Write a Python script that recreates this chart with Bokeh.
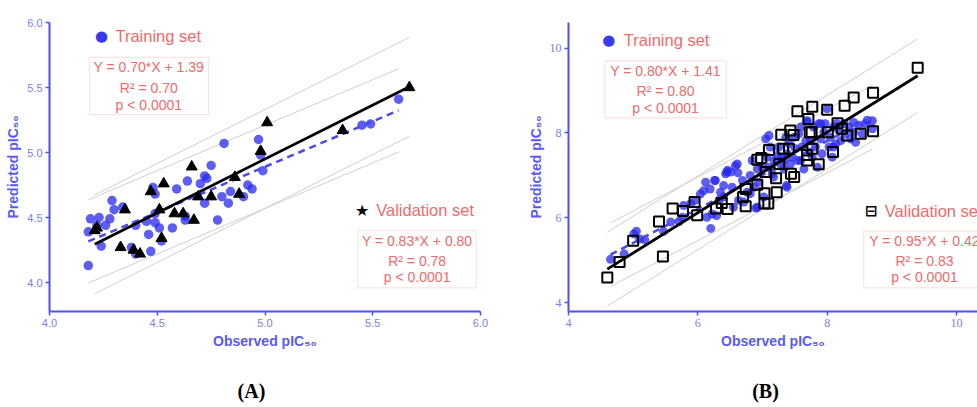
import numpy as np
from bokeh.plotting import figure
from bokeh.layouts import row, column
from bokeh.models import Label, BoxAnnotation, Range1d, FixedTicker
from bokeh.embed import file_html
from bokeh.resources import INLINE

# ---------------- Data ----------------
# Panel A
train_A_x = [4.18, 4.19, 4.18, 4.23, 4.22, 4.24, 4.26, 4.28, 4.29, 4.30,
             4.34, 4.38, 4.40, 4.40, 4.45, 4.46, 4.47, 4.48, 4.49, 4.49,
             4.49, 4.51, 4.52, 4.57, 4.59, 4.63, 4.63, 4.64, 4.70, 4.72,
             4.72, 4.73, 4.75, 4.78, 4.80, 4.81, 4.83, 4.84, 4.90, 4.92,
             4.94, 4.97, 4.98, 4.99, 5.45, 5.49, 5.62]
train_A_y = [4.13, 4.49, 4.39, 4.50, 4.44, 4.28, 4.44, 4.49, 4.63, 4.56,
             4.58, 4.27, 4.22, 4.44, 4.47, 4.37, 4.24, 4.73, 4.68, 4.53,
             4.46, 4.42, 4.32, 4.42, 4.72, 4.51, 4.48, 4.78, 4.76, 4.61,
             4.82, 4.80, 4.90, 4.48, 4.66, 5.07, 4.61, 4.70, 4.66, 4.75,
             4.72, 5.10, 4.98, 4.86, 5.21, 5.22, 5.41]
val_A_x = [4.21, 4.22, 4.33, 4.35, 4.39, 4.42, 4.47, 4.51, 4.52, 4.53, 4.58,
           4.62, 4.67, 4.66, 4.69, 4.75, 4.86, 4.88, 4.98, 5.01, 5.36, 5.67]
val_A_y = [4.40, 4.42, 4.27, 4.56, 4.25, 4.22, 4.70, 4.56, 4.34, 4.76, 4.53,
           4.53, 4.48, 4.89, 4.66, 4.66, 4.81, 4.68, 5.01, 5.23, 5.17, 5.50]

# Panel B
train_B_x = [4.65, 4.86, 5.01, 5.05, 5.10, 5.18, 5.47, 5.58, 5.71, 5.76,
             5.78, 5.89, 5.96, 6.04, 6.09, 6.12, 6.19, 6.20, 6.22, 6.26,
             6.29, 6.33, 6.35, 6.40, 6.43, 6.46, 6.51, 6.53, 6.58, 6.62,
             6.63, 6.69, 6.71, 6.76, 6.81, 6.84, 6.87, 6.90, 6.92, 6.94,
             7.00, 7.02, 7.05, 7.07, 7.10, 7.12, 7.15, 7.18, 7.23, 7.25,
             7.28, 7.30, 7.33, 7.36, 7.37, 7.38, 7.41, 7.43, 7.46, 7.49,
             7.51, 7.54, 7.56, 7.59, 7.61, 7.64, 7.67, 7.69, 7.72, 7.74,
             7.77, 7.79, 7.82, 7.87, 7.90, 7.92, 7.95, 7.97, 8.00, 8.03,
             8.05, 8.08, 8.10, 8.13, 8.18, 8.21, 8.26, 8.28, 8.34, 8.36,
             8.41, 8.44, 8.49, 8.54, 8.59, 8.70, 8.70,
             7.10, 6.61, 6.45, 6.27, 6.14, 6.40, 6.55, 6.81, 6.92, 7.17,
             7.33, 7.90, 7.69, 8.15, 8.41, 8.62, 8.10, 7.59, 7.85, 7.38]
train_B_y = [5.02, 5.15, 5.62, 5.68, 5.50, 5.48, 5.68, 5.90, 5.91, 6.01,
             6.29, 6.33, 6.41, 6.56, 6.64, 6.84, 6.68, 5.75, 6.09, 6.88,
             6.05, 6.42, 6.60, 6.76, 7.04, 7.12, 7.08, 6.72, 7.23, 7.06,
             6.41, 6.88, 6.37, 6.60, 7.00, 7.35, 6.72, 6.23, 7.15, 6.84,
             7.19, 6.49, 7.86, 7.43, 7.19, 7.67, 7.04, 7.35, 7.47, 7.67,
             7.27, 7.43, 7.15, 7.90, 6.76, 7.51, 7.74, 7.27, 7.43, 7.90,
             7.63, 7.35, 7.98, 8.14, 7.67, 7.15, 7.82, 8.29, 7.55, 7.82,
             7.43, 8.14, 7.67, 8.22, 7.86, 7.51, 8.02, 8.22, 8.57, 7.67,
             7.90, 7.43, 8.14, 7.74, 8.06, 7.82, 8.22, 7.98, 8.14, 7.86,
             8.25, 7.78, 8.18, 7.98, 8.22, 8.29, 8.10,
             7.94, 7.27, 7.08, 6.88, 6.01, 6.49, 6.25, 6.57, 6.25, 6.96,
             7.35, 8.22, 8.26, 8.22, 8.02, 8.30, 7.67, 7.35, 7.19, 6.72]
val_B_x = [4.60, 4.79, 5.00, 5.40, 5.46, 5.61, 5.77, 5.95, 5.99, 6.28,
           6.37, 6.46, 6.70, 6.74, 6.74, 6.92, 6.92, 6.98, 7.03, 7.03,
           7.09, 7.10, 7.05, 7.21, 7.22, 7.26, 7.29, 7.32, 7.41, 7.43,
           7.44, 7.49, 7.48, 7.54, 7.69, 7.71, 7.73, 7.77, 7.76, 7.77,
           7.87, 8.00, 8.01, 8.09, 8.16, 8.27, 8.31, 8.41, 8.52, 8.71,
           8.71, 9.40, 8.23, 7.69]
val_B_y = [4.59, 4.96, 5.46, 5.91, 5.09, 6.22, 6.16, 6.37, 6.06, 6.22,
           6.35, 6.21, 6.49, 6.27, 6.68, 6.78, 7.37, 7.41, 6.58, 6.34,
           6.34, 7.60, 7.08, 6.93, 6.60, 7.27, 7.96, 7.63, 7.63, 8.06,
           7.04, 6.96, 7.95, 8.51, 7.35, 8.33, 8.02, 8.62, 8.02, 7.63,
           7.26, 8.55, 8.02, 7.55, 8.23, 8.64, 7.94, 8.84, 7.98, 8.04,
           8.95, 9.54, 8.10, 7.48]

# Regression results (slope, intercept) and prediction band half widths
fit_A_train = (0.70, 1.39)
fit_A_val = (0.83, 0.80)
fit_B_train = (0.80, 1.41)
fit_B_val = (0.95, 0.42)
band_A = (0.32, 0.38)
band_B = (0.75, 0.87)

# Text
eq_A_train = ["Y = 0.70*X + 1.39", "R\u00b2 = 0.70", "p < 0.0001"]
eq_A_val = ["Y = 0.83*X + 0.80", "R\u00b2 = 0.78", "p < 0.0001"]
eq_B_train = ["Y = 0.80*X + 1.41", "R\u00b2 = 0.80", "p < 0.0001"]
eq_B_val = ["Y = 0.95*X + 0.42", "R\u00b2 = 0.83", "p < 0.0001"]
ticks_A = [4.0, 4.5, 5.0, 5.5, 6.0]
tick_labels_A = ["4.0", "4.5", "5.0", "5.5", "6.0"]
ticks_B = [4, 6, 8, 10]
tick_labels_B = ["4", "6", "8", "10"]
xlabel = "Observed pIC\u2085\u2080"
ylabel = "Predicted pIC\u2085\u2080"
panel_labels = ["(A)", "(B)"]

# ---------------- Styles ----------------
AXIS_BLUE = "#4f4ff2"
TICK_BLUE = "#7d7df2"
TITLE_BLUE = "#5a5af0"
SALMON = "#f16a6a"
BOX_LINE = "#f4a3a3"
PT_BLUE = "#2828ee"
BAND_GRAY = "#cfcfcf"

TOP_H = 370
CAP_H = 37


def style_axes(p, ticks, labels, tick_font, tick_size):
    for ax in (p.xaxis[0], p.yaxis[0]):
        ax.ticker = FixedTicker(ticks=ticks)
        ax.major_label_overrides = {t: l for t, l in zip(ticks, labels)}
        ax.axis_line_color = AXIS_BLUE
        ax.axis_line_width = 2
        ax.major_tick_line_color = AXIS_BLUE
        ax.major_tick_line_width = 1.5
        ax.major_tick_out = 4
        ax.major_tick_in = 0
        ax.minor_tick_line_color = None
        ax.major_label_text_color = TICK_BLUE
        ax.major_label_text_font = tick_font
        ax.major_label_text_font_size = tick_size
        ax.major_label_standoff = 3
        ax.axis_label_text_color = TITLE_BLUE
        ax.axis_label_text_font = "Liberation Sans"
        ax.axis_label_text_font_style = "bold"
        ax.axis_label_text_font_size = "14px"
        ax.axis_label_standoff = 3
    p.xaxis.axis_label = xlabel
    p.yaxis.axis_label = ylabel
    p.xgrid.grid_line_color = None
    p.ygrid.grid_line_color = None
    p.outline_line_color = None
    p.background_fill_color = "white"
    p.border_fill_color = "white"


def fit_line(xs, fit):
    xx = np.array([min(xs), max(xs)])
    return xx, fit[0] * xx + fit[1]


def add_bands(p, xs, fit, band):
    xx, yy = fit_line(xs, fit)
    p.line(xx, yy + band, line_color=BAND_GRAY, line_width=1)
    p.line(xx, yy - band, line_color=BAND_GRAY, line_width=1)


def add_box(p, lines, left, right, top, bottom, cx, ys):
    p.add_layout(BoxAnnotation(left=left, right=right, top=top, bottom=bottom,
                               fill_color=None, fill_alpha=0,
                               line_color=BOX_LINE, line_width=1.2))
    for t, yv in zip(lines, ys):
        p.add_layout(Label(x=cx, y=yv, text=t, text_align="center",
                           text_baseline="middle", text_color=SALMON,
                           text_font="Liberation Sans", text_font_size="14px"))


def add_text(p, x, y, text, size="16.5px", color=SALMON, font="Liberation Sans",
             align="left", style="normal"):
    p.add_layout(Label(x=x, y=y, text=text, text_align=align, text_baseline="middle",
                       text_color=color, text_font=font, text_font_size=size,
                       text_font_style=style))


def caption(width, text, cx):
    c = figure(width=width, height=CAP_H, x_range=Range1d(0, width), y_range=Range1d(0, CAP_H),
               output_backend="svg", toolbar_location=None, min_border=0,
               x_axis_type=None, y_axis_type=None)
    c.xgrid.grid_line_color = None
    c.ygrid.grid_line_color = None
    c.outline_line_color = None
    c.add_layout(Label(x=cx, y=CAP_H - 20, text=text, text_align="center",
                       text_baseline="middle", text_color="black",
                       text_font="Liberation Serif", text_font_style="bold",
                       text_font_size="20px"))
    return c


# ---------------- Panel A ----------------
pA = figure(width=490, height=TOP_H, x_range=Range1d(4.0, 6.0), y_range=Range1d(3.777, 6.0),
            output_backend="svg", toolbar_location=None,
            min_border_left=49, min_border_right=10, min_border_top=22, min_border_bottom=59)
style_axes(pA, ticks_A, tick_labels_A, "Liberation Sans", "11px")

add_bands(pA, train_A_x, fit_A_train, band_A[0])
add_bands(pA, val_A_x, fit_A_val, band_A[1])
pA.scatter(train_A_x, train_A_y, marker="circle", size=9.5, fill_color=PT_BLUE,
           fill_alpha=0.75, line_color=None)
xx, yy = fit_line(train_A_x, fit_A_train)
pA.line(xx, yy, line_color="#4a4af0", line_width=2.5, line_dash="7 5")
pA.scatter(val_A_x, val_A_y, marker="triangle", size=11, fill_color="black",
           line_color="black")
xx, yy = fit_line(val_A_x, fit_A_val)
pA.line(xx, yy, line_color="black", line_width=2.8)

add_text(pA, 4.241, 5.90, "\u25cf", size="15px", color="#3a3af0", font="DejaVu Sans", align="center")
add_text(pA, 4.306, 5.90, "Training set")
add_box(pA, eq_A_train, 4.186, 4.738, 5.731, 5.292, 4.461, [5.654, 5.50, 5.369])
add_text(pA, 5.451, 4.554, "\u2605", size="16px", color="black", font="DejaVu Sans", align="center")
add_text(pA, 5.516, 4.554, "Validation set")
add_box(pA, eq_A_val, 5.431, 5.980, 4.40, 3.959, 5.706, [4.323, 4.169, 4.041])

# ---------------- Panel B ----------------
pB = figure(width=487, height=TOP_H, x_range=Range1d(4.0, 10.325), y_range=Range1d(3.79, 10.606),
            output_backend="svg", toolbar_location=None,
            min_border_left=78, min_border_right=0, min_border_top=22, min_border_bottom=59)
style_axes(pB, ticks_B, tick_labels_B, "Liberation Serif", "12px")

add_bands(pB, train_B_x, fit_B_train, band_B[0])
add_bands(pB, val_B_x, fit_B_val, band_B[1])
pB.scatter(train_B_x, train_B_y, marker="circle", size=9, fill_color=PT_BLUE,
           fill_alpha=0.75, line_color=None)
xx, yy = fit_line(train_B_x, fit_B_train)
pB.line(xx, yy, line_color="#4a4af0", line_width=2.5, line_dash="7 5")
pB.scatter(val_B_x, val_B_y, marker="square", size=10, fill_color=None,
           line_color="black", line_width=2)
xx, yy = fit_line(val_B_x, fit_B_val)
pB.line(xx, yy, line_color="black", line_width=2.8)

add_text(pB, 4.623, 10.205, "\u25cf", size="15px", color="#3a3af0", font="DejaVu Sans", align="center")
add_text(pB, 4.856, 10.205, "Training set")
add_box(pB, eq_B_train, 4.561, 6.443, 9.703, 8.358, 5.50, [9.457, 8.986, 8.594])
add_text(pB, 8.681, 6.172, "\u229f", size="15px", color="black", font="DejaVu Sans",
         align="center", style="bold")
add_text(pB, 8.891, 6.172, "Validation set")
add_box(pB, eq_B_val, 8.566, 10.45, 5.684, 4.349, 9.505, [5.464, 4.976, 4.599])

capA = caption(490, panel_labels[0], 251)
capB = caption(487, panel_labels[1], 765 - 490)

layout = column(row(pA, pB, spacing=0), row(capA, capB, spacing=0), spacing=0)
open("out.html", "w").write(file_html(layout, INLINE))
